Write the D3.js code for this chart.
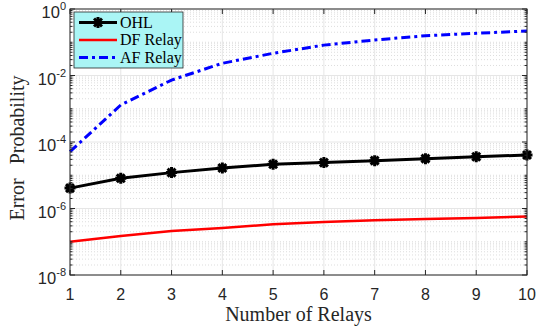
<!DOCTYPE html>
<html>
<head>
<meta charset="utf-8">
<script src="https://cdn.jsdelivr.net/npm/d3@7"></script>
<style>
  body { margin: 0; background: #fff; }
  svg { display: block; }
</style>
</head>
<body>
<script>
// data
var relays = [1, 2, 3, 4, 5, 6, 7, 8, 9, 10];
var ohl = [4.1e-6, 8.1e-6, 1.2e-5, 1.65e-5, 2.13e-5, 2.4e-5, 2.75e-5, 3.16e-5, 3.6e-5, 4.07e-5];
var dfRelay = [1.0e-7, 1.5e-7, 2.1e-7, 2.6e-7, 3.35e-7, 3.9e-7, 4.4e-7, 4.8e-7, 5.2e-7, 5.7e-7];
var afRelay = [5.1e-5, 1.3e-3, 7.3e-3, 2.33e-2, 4.66e-2, 8.2e-2, 1.17e-1, 1.57e-1, 1.86e-1, 2.18e-1];
var yTickExp = [0, -2, -4, -6, -8];
var legendNames = ["OHL", "DF Relay", "AF Relay"];

var W = 540, H = 327;
var m = {left: 70, right: 13, top: 9, bottom: 52};
var iw = W - m.left - m.right, ih = H - m.top - m.bottom;

var svg = d3.select("body").append("svg")
    .attr("width", W).attr("height", H);

var x = d3.scaleLinear().domain([1, 10]).range([0, iw]);
var y = d3.scaleLog().domain([1e-8, 1]).range([ih, 0]);

var g = svg.append("g").attr("transform", "translate(" + m.left + "," + m.top + ")");

// minor y grid (dotted)
var minor = [];
for (var e = -8; e < 0; e++) {
    for (var k = 2; k <= 9; k++) minor.push(k * Math.pow(10, e));
}
for (var e2 = -7; e2 < 0; e2 += 2) minor.push(Math.pow(10, e2));

g.selectAll(".ming").data(minor).enter().append("line")
    .attr("x1", 0).attr("x2", iw)
    .attr("y1", d => y(d)).attr("y2", d => y(d))
    .attr("stroke", "#d4d4d4").attr("stroke-width", 0.8)
    .attr("stroke-dasharray", "1,2");

// major grid
g.selectAll(".majy").data(yTickExp).enter().append("line")
    .attr("x1", 0).attr("x2", iw)
    .attr("y1", d => y(Math.pow(10, d))).attr("y2", d => y(Math.pow(10, d)))
    .attr("stroke", "#e6e6e6").attr("stroke-width", 1);
g.selectAll(".majx").data(relays).enter().append("line")
    .attr("x1", d => x(d)).attr("x2", d => x(d))
    .attr("y1", 0).attr("y2", ih)
    .attr("stroke", "#e6e6e6").attr("stroke-width", 1);

// lines
var line = d3.line().x((d, i) => x(relays[i])).y(d => y(d));

g.append("path").datum(afRelay).attr("d", line)
    .attr("fill", "none").attr("stroke", "#0000ff").attr("stroke-width", 3)
    .attr("stroke-dasharray", "9,4,3,4");
g.append("path").datum(dfRelay).attr("d", line)
    .attr("fill", "none").attr("stroke", "#ff0000").attr("stroke-width", 2.5);
g.append("path").datum(ohl).attr("d", line)
    .attr("fill", "none").attr("stroke", "#000").attr("stroke-width", 3);

function star(sel, s) {
    sel.append("path")
        .attr("d", "M" + (-s) + ",0L" + s + ",0M0," + (-s) + "L0," + s +
            "M" + (-s * 0.72) + "," + (-s * 0.72) + "L" + (s * 0.72) + "," + (s * 0.72) +
            "M" + (-s * 0.72) + "," + (s * 0.72) + "L" + (s * 0.72) + "," + (-s * 0.72))
        .attr("stroke", "#000").attr("stroke-width", 3).attr("fill", "none");
}
g.selectAll(".mk").data(ohl).enter().append("g")
    .attr("transform", (d, i) => "translate(" + x(relays[i]) + "," + y(d) + ")")
    .each(function() { star(d3.select(this), 5.5); });

// axes box + ticks
var tick = 5;
var axes = g.append("g").attr("stroke", "#262626").attr("stroke-width", 1);
axes.append("rect").attr("width", iw).attr("height", ih).attr("fill", "none");
relays.forEach(function(d) {
    axes.append("line").attr("x1", x(d)).attr("x2", x(d)).attr("y1", ih).attr("y2", ih - tick);
    axes.append("line").attr("x1", x(d)).attr("x2", x(d)).attr("y1", 0).attr("y2", tick);
});
yTickExp.forEach(function(d) {
    var yy = y(Math.pow(10, d));
    axes.append("line").attr("x1", 0).attr("x2", tick).attr("y1", yy).attr("y2", yy);
    axes.append("line").attr("x1", iw).attr("x2", iw - tick).attr("y1", yy).attr("y2", yy);
});
minor.forEach(function(d) {
    var yy = y(d);
    axes.append("line").attr("x1", 0).attr("x2", 2.5).attr("y1", yy).attr("y2", yy);
    axes.append("line").attr("x1", iw).attr("x2", iw - 2.5).attr("y1", yy).attr("y2", yy);
});

// tick labels
g.selectAll(".xl").data(relays).enter().append("text")
    .attr("x", d => x(d)).attr("y", ih + 25)
    .attr("text-anchor", "middle")
    .attr("font-family", "Liberation Sans, Arial, sans-serif")
    .attr("font-size", 16).attr("fill", "#262626")
    .text(d => d);

var yl = g.selectAll(".yl").data(yTickExp).enter().append("text")
    .attr("x", -4).attr("y", d => y(Math.pow(10, d)) + 9)
    .attr("text-anchor", "end")
    .attr("font-family", "Liberation Sans, Arial, sans-serif")
    .attr("font-size", 16.5).attr("fill", "#262626");
yl.append("tspan").text("10");
yl.append("tspan").attr("dy", -8).attr("font-size", 11).text(d => d);

// axis titles
svg.append("text")
    .attr("x", m.left + iw / 2).attr("y", H - 6)
    .attr("text-anchor", "middle")
    .attr("font-family", "Liberation Serif, Times New Roman, serif")
    .attr("font-size", 20).attr("fill", "#262626")
    .text("Number of Relays");
var yt = svg.append("text")
    .attr("transform", "translate(24,148) rotate(-90)")
    .attr("text-anchor", "middle")
    .attr("font-family", "Liberation Serif, Times New Roman, serif")
    .attr("font-size", 20).attr("fill", "#262626");
yt.append("tspan").text("Error");
yt.append("tspan").attr("dx", 14).text("Probability");

// legend
var lg = g.append("g").attr("transform", "translate(4,3)");
lg.append("rect").attr("width", 109).attr("height", 56)
    .attr("fill", "#aaf5f5").attr("stroke", "#262626").attr("stroke-width", 0.8);
var colors = ["#000", "#ff0000", "#0000ff"];
var widths = [3, 2.5, 3];
var dashes = [null, null, "9,4,3,4"];
legendNames.forEach(function(name, i) {
    var yy = 10.5 + i * 17.5;
    lg.append("line").attr("x1", 5).attr("x2", 43).attr("y1", yy).attr("y2", yy)
        .attr("stroke", colors[i]).attr("stroke-width", widths[i])
        .attr("stroke-dasharray", dashes[i]);
    if (i === 0) {
        var s = lg.append("g").attr("transform", "translate(24," + yy + ")");
        star(s, 5.5);
    }
    lg.append("text").attr("x", 46).attr("y", yy + 5)
        .attr("font-family", "Liberation Serif, Times New Roman, serif")
        .attr("font-size", 16).attr("fill", "#000")
        .text(name);
});
</script>
</body>
</html>
